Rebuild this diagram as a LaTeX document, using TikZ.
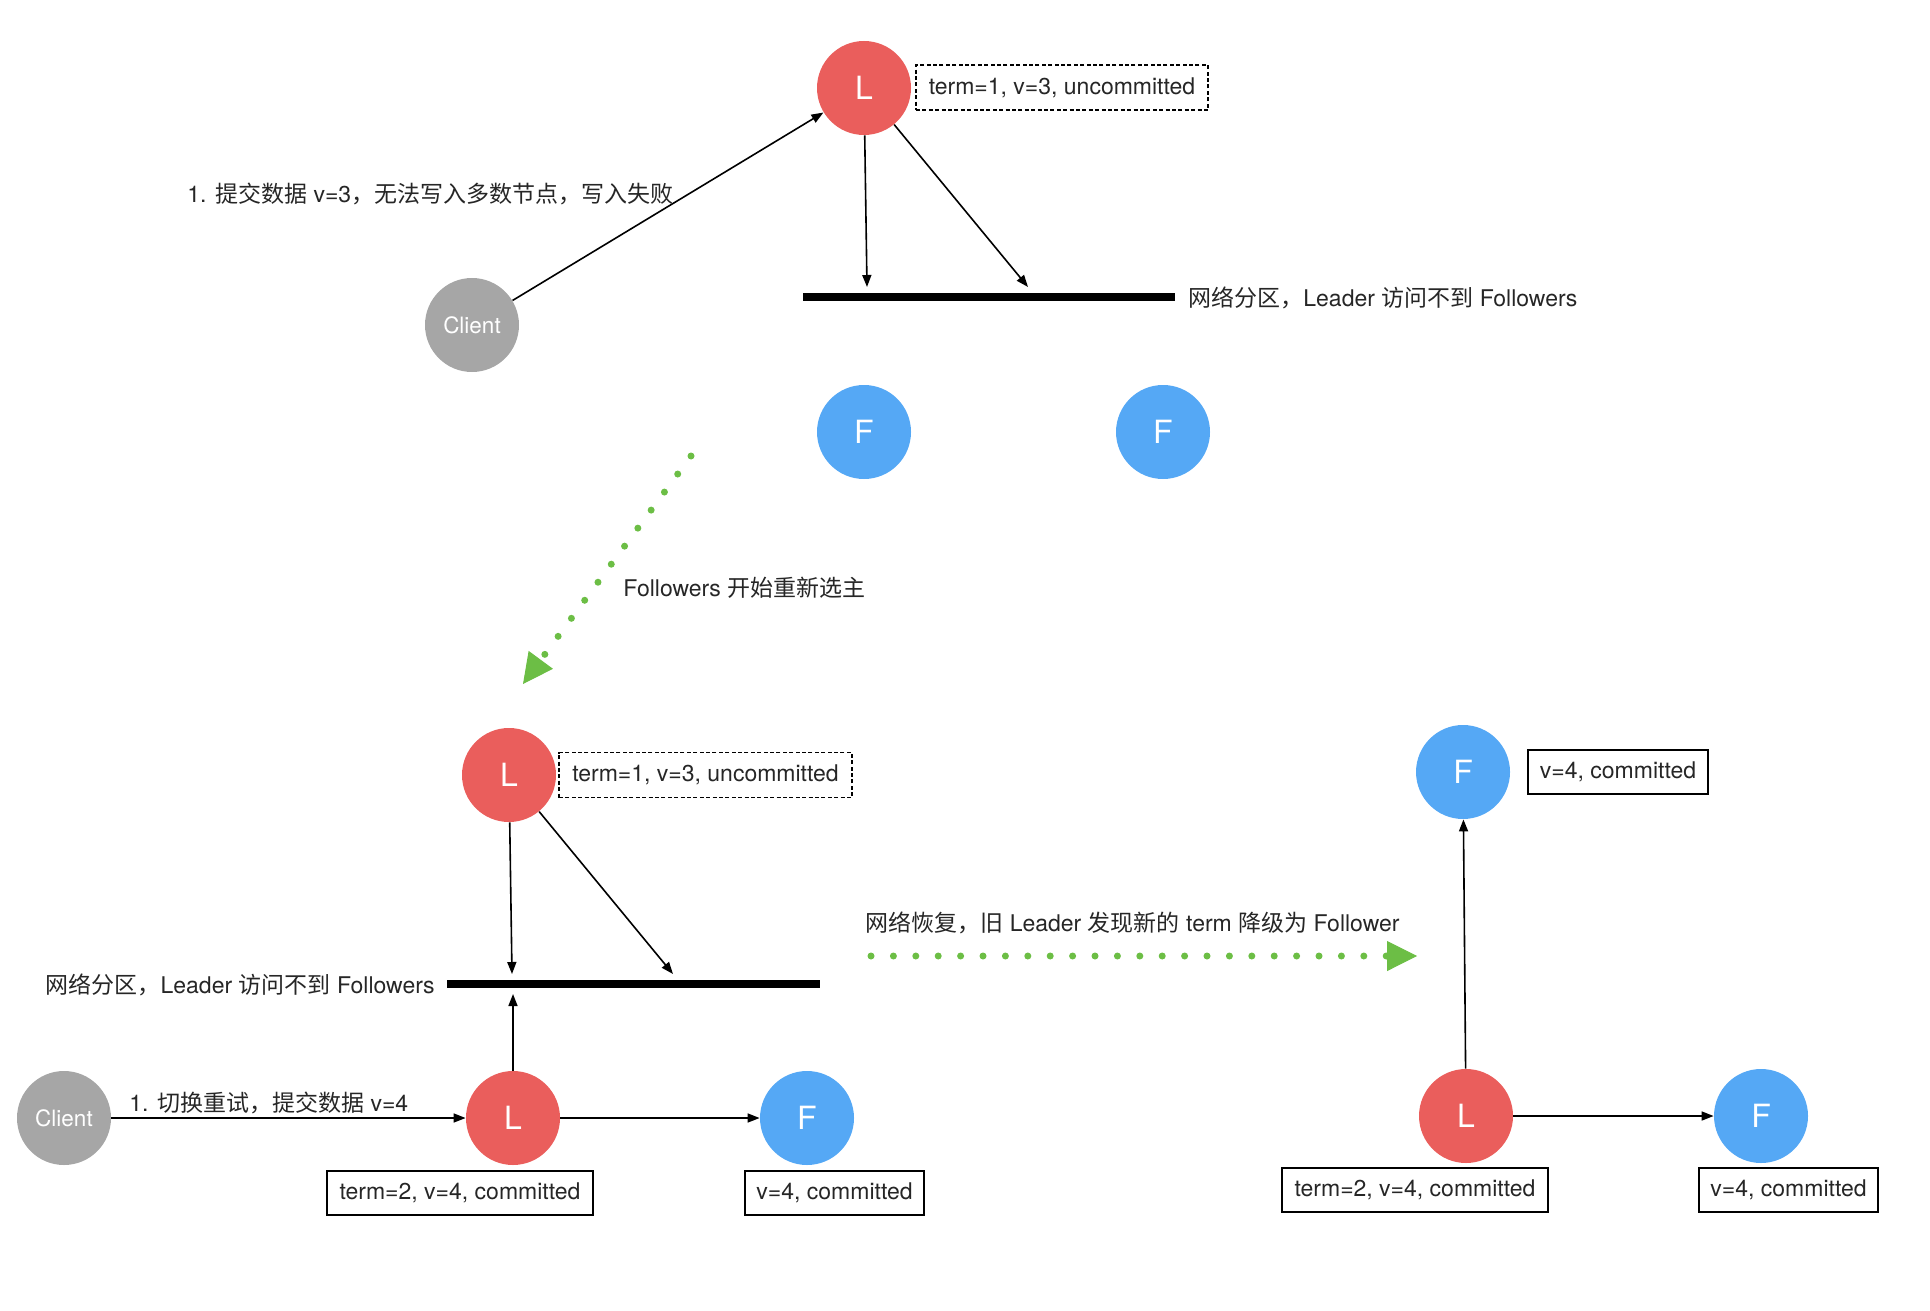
\documentclass[tikz,border=0pt]{standalone}
\usepackage{fontspec}
\setmainfont{TeX Gyre Heros}
\newfontfamily\cjk{Noto Sans CJK SC}
\usetikzlibrary{arrows.meta}
\definecolor{lred}{HTML}{EA5E5C}
\definecolor{fblue}{HTML}{55A8F5}
\definecolor{cgray}{HTML}{A6A6A6}
\definecolor{hgreen}{HTML}{6CBE45}

\begin{document}
\begin{tikzpicture}
                [x=0.5pt, y=-0.5pt, font=\fontsize{11.5}{13.8}\selectfont, text=black!85,
                 dot/.style = {minimum size = 47pt, inner sep=0pt, circle, text=white, font=\fontsize{16}{18}\selectfont},
                 lead/.style = {dot, fill=lred},
                 foll/.style = {dot, fill=fblue},
                 cli/.style = {dot, fill=cgray, font=\fontsize{11.25}{13.5}\selectfont},
                 note/.style = {inner sep=0pt},
                 valbox/.style = {draw=black, line width=1pt, minimum height=22pt, inner sep=0pt},
                 tmpbox/.style = {draw=black, line width=0.75pt, dash pattern=on 2pt off 1.2pt, minimum height=22.5pt, inner sep=0pt},
                 wall/.style = {line width=4pt},
                 msg/.style = {-{Triangle[length=6pt,width=4.5pt]}, line width=0.8pt},
                 hop/.style = {draw=hgreen, line width=3.5pt, line cap=round, dash pattern=on 0pt off 11.2pt,
                               -{Triangle[length=15pt,width=15pt,line width=0.5pt,fill=hgreen]}}]

                \useasboundingbox (0,0) rectangle (1930,1310);

                % partition, client cannot reach a majority
                \node[lead] (l1) at (864,88) {L};
                \node[tmpbox, minimum width=146pt] (s1) at (1062,87.5) {term=1, v=3, uncommitted};
                \node[cli] (c1) at (472,325) {Client};
                \node[foll] (f1) at (864,432) {F};
                \node[foll] (f2) at (1163,432) {F};
                \coordinate (w1a) at (803,297);
                \coordinate (w1b) at (1175,297);
                \coordinate (p1) at (867,287);
                \coordinate (p2) at (1028,287);
                \node[note, anchor=west] (t1) at (187,194) {1. {\cjk 提交数据} v=3{\cjk ，无法写入多数节点，写入失败}};
                \node[note, anchor=west] (t2) at (1188,298) {{\cjk 网络分区，}Leader {\cjk 访问不到} Followers};

                \coordinate (e1) at (691,456);
                \coordinate (e2) at (523,684);
                \node[note, anchor=west] (t3) at (623,588) {Followers {\cjk 开始重新选主}};

                % new leader elected
                \node[lead] (l2) at (509,775) {L};
                \node[tmpbox, minimum width=146.5pt] (s2) at (705.5,775) {term=1, v=3, uncommitted};
                \coordinate (w2a) at (447,984);
                \coordinate (w2b) at (820,984);
                \coordinate (p3) at (512,974);
                \coordinate (p4) at (673,974);
                \coordinate (p5) at (513,994);
                \node[note, anchor=east] (t4) at (435,985) {{\cjk 网络分区，}Leader {\cjk 访问不到} Followers};
                \node[cli] (c2) at (64,1118) {Client};
                \node[lead] (l3) at (513,1118) {L};
                \node[foll] (f3) at (807,1118) {F};
                \node[note, anchor=west] (t5) at (129,1103) {1. {\cjk 切换重试，提交数据} v=4};
                \node[valbox, minimum width=133pt] (s3) at (460,1193) {term=2, v=4, committed};
                \node[valbox, minimum width=89.5pt] (s4) at (834.5,1193) {v=4, committed};

                \coordinate (h1) at (871,956);
                \coordinate (h2) at (1417,956);
                \node[note, anchor=west] (t6) at (865,923) {{\cjk 网络恢复，旧} Leader {\cjk 发现新的} term {\cjk 降级为} Follower};

                % network healed
                \node[foll] (f4) at (1463,772) {F};
                \node[valbox, minimum width=90pt] (s5) at (1618,772) {v=4, committed};
                \node[lead] (l4) at (1466,1116) {L};
                \node[foll] (f5) at (1761,1116) {F};
                \node[valbox, minimum width=133pt] (s6) at (1415,1190) {term=2, v=4, committed};
                \node[valbox, minimum width=89.5pt] (s7) at (1788.5,1190) {v=4, committed};

                \draw[msg] (c1) to (l1);
                \draw[msg] (l1) to (p1);
                \draw[msg] (l1) to (p2);
                \draw[wall] (w1a) to (w1b);
                \draw[hop] (e1) to (e2);
                \draw[msg] (l2) to (p3);
                \draw[msg] (l2) to (p4);
                \draw[wall] (w2a) to (w2b);
                \draw[msg] (l3) to (p5);
                \draw[msg] (c2) to (l3);
                \draw[msg] (l3) to (f3);
                \draw[hop] (h1) to (h2);
                \draw[msg] (l4) to (f4);
                \draw[msg] (l4) to (f5);
            \end{tikzpicture}
\end{document}
